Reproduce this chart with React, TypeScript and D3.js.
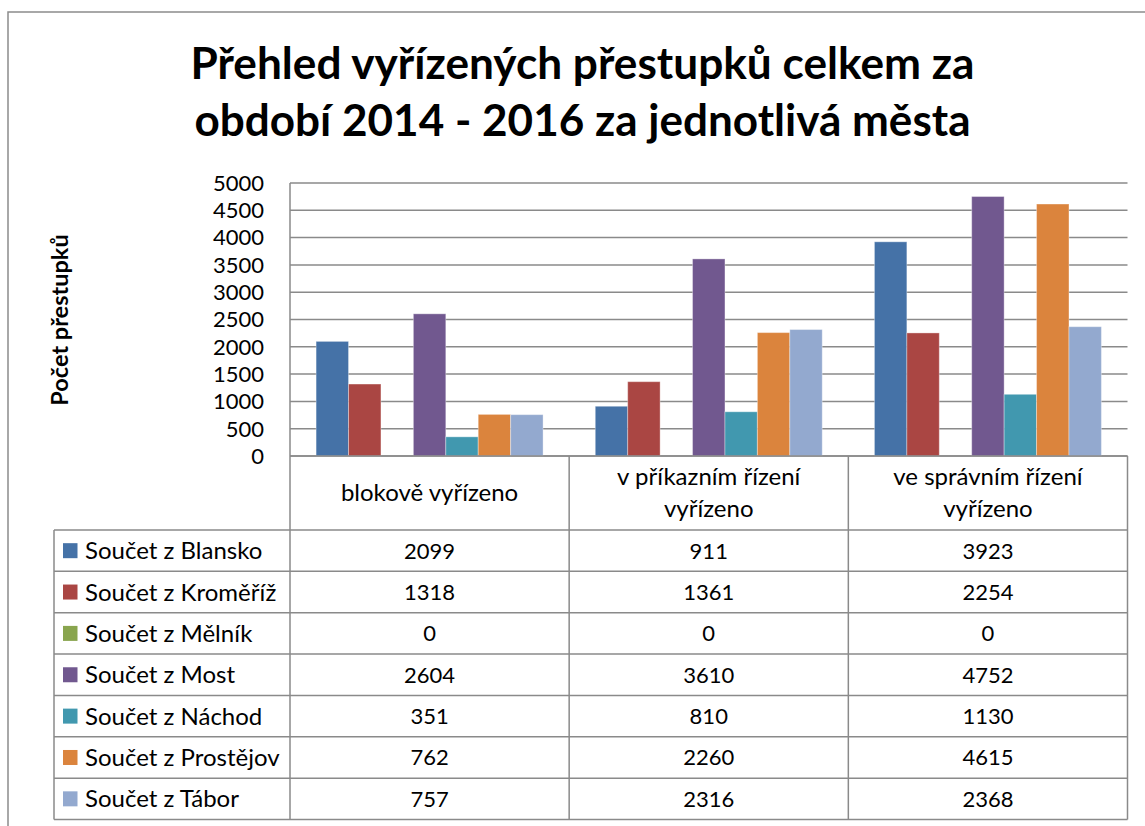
import React from "react";
import * as d3 from "d3";

const titleLines = ["Přehled vyřízených přestupků celkem za", "období 2014 - 2016 za jednotlivá města"];
const yAxisTitle = "Počet přestupků";
const categories = ["blokově vyřízeno", "v příkazním řízení vyřízeno", "ve správním řízení vyřízeno"];
const categoryLines = [["blokově vyřízeno"], ["v příkazním řízení", "vyřízeno"], ["ve správním řízení", "vyřízeno"]];
const seriesNames = [
  "Součet z Blansko",
  "Součet z Kroměříž",
  "Součet z Mělník",
  "Součet z Most",
  "Součet z Náchod",
  "Součet z Prostějov",
  "Součet z Tábor",
];
const seriesColors = ["#4572A7", "#AA4643", "#89A54E", "#71588F", "#4198AF", "#DB843D", "#93A9CF"];
const blansko = [2099, 911, 3923];
const kromeriz = [1318, 1361, 2254];
const melnik = [0, 0, 0];
const most = [2604, 3610, 4752];
const nachod = [351, 810, 1130];
const prostejov = [762, 2260, 4615];
const tabor = [757, 2316, 2368];
const seriesValues = [blansko, kromeriz, melnik, most, nachod, prostejov, tabor];
const yTicks = [0, 500, 1000, 1500, 2000, 2500, 3000, 3500, 4000, 4500, 5000];

const FONT = "Lato, 'Open Sans', sans-serif";
const GRID = "#8a8a8a";

export default function App() {
  const plotL = 290, plotR = 1127.5, plotT = 183, plotB = 456;
  const headerB = 530;
  const rowH = 41.36;
  const tableL = 54;

  const y = d3.scaleLinear().domain([0, 5000]).range([plotB, plotT]);
  const x0 = d3.scaleBand<string>().domain(categories).range([plotL, plotR]).padding(0);
  const bw = x0.bandwidth();
  const gapHalf = bw * 0.0935;
  const x1 = d3
    .scaleBand<number>()
    .domain(d3.range(seriesNames.length))
    .range([gapHalf, bw - gapHalf])
    .padding(0);

  const tableB = headerB + rowH * seriesNames.length;

  return (
    <svg
      width={1145}
      height={826}
      style={{ position: "absolute", left: 0, top: 0, background: "#fff" }}
      fontFamily={FONT}
    >
      {/* outer chart border */}
      <rect x={8} y={12} width={1200} height={900} fill="#fff" stroke="#8c8c8c" strokeWidth={1.5} />

      {/* title */}
      {titleLines.map((t, i) => (
        <text
          key={i}
          x={582.5}
          y={79 + i * 57}
          textAnchor="middle"
          fontSize={43}
          fontWeight="bold"
          fill="#000"
          textLength={i === 0 ? 784 : 776}
          lengthAdjust="spacingAndGlyphs"
        >
          {t}
        </text>
      ))}

      {/* y axis title */}
      <text
        transform={`translate(68,320) rotate(-90)`}
        textAnchor="middle"
        fontSize={23.5}
        fontWeight="bold"
        fill="#000"
      >
        {yAxisTitle}
      </text>

      {/* gridlines */}
      {yTicks.map((t) => (
        <line key={t} x1={plotL} x2={plotR} y1={y(t)} y2={y(t)} stroke={GRID} strokeWidth={1.5} />
      ))}

      {/* tick labels */}
      {yTicks.map((t) => (
        <text key={"l" + t} x={264} y={y(t) + 7.8} textAnchor="end" fontSize={22} fill="#000">
          {t}
        </text>
      ))}

      {/* bars */}
      {categories.map((c, ci) => (
        <g key={c} transform={`translate(${x0(c)},0)`}>
          {seriesValues.map((vals, si) =>
            vals[ci] > 0 ? (
              <rect
                key={si}
                x={x1(si)}
                y={y(vals[ci])}
                width={x1.bandwidth()}
                height={y(0) - y(vals[ci])}
                fill={seriesColors[si]}
                stroke="rgba(255,255,255,0.35)"
                strokeWidth={1}
              />
            ) : null
          )}
        </g>
      ))}

      {/* table lines */}
      <line x1={plotL} x2={plotL} y1={plotT} y2={tableB} stroke={GRID} strokeWidth={1.5} />
      {categories.map((c) => (
        <line
          key={"v" + c}
          x1={(x0(c) as number) + bw}
          x2={(x0(c) as number) + bw}
          y1={plotB}
          y2={tableB}
          stroke={GRID}
          strokeWidth={1.5}
        />
      ))}
      <line x1={tableL} x2={tableL} y1={headerB} y2={tableB} stroke={GRID} strokeWidth={1.5} />
      <line x1={plotL} x2={plotR} y1={plotB} y2={plotB} stroke={GRID} strokeWidth={1.5} />
      {d3.range(seriesNames.length + 1).map((r) => (
        <line
          key={"h" + r}
          x1={tableL}
          x2={plotR}
          y1={headerB + r * rowH}
          y2={headerB + r * rowH}
          stroke={GRID}
          strokeWidth={1.5}
        />
      ))}

      {/* category labels */}
      {categories.map((c, ci) => {
        const lines = categoryLines[ci];
        const cx = (x0(c) as number) + bw / 2;
        const base = lines.length === 1 ? 501 : 485;
        return lines.map((ln, li) => (
          <text key={c + li} x={cx} y={base + li * 31.5} textAnchor="middle" fontSize={24} fill="#000">
            {ln}
          </text>
        ));
      })}

      {/* table rows */}
      {seriesNames.map((name, si) => {
        const top = headerB + si * rowH;
        const cy = top + rowH / 2;
        return (
          <g key={name}>
            <rect x={63} y={cy - 7.5} width={14.5} height={15} fill={seriesColors[si]} />
            <text x={85} y={cy + 8.5} fontSize={24} fill="#000">
              {name}
            </text>
            {categories.map((c, ci) => (
              <text
                key={c}
                x={(x0(c) as number) + bw / 2}
                y={cy + 8}
                textAnchor="middle"
                fontSize={22}
                fill="#000"
              >
                {seriesValues[si][ci]}
              </text>
            ))}
          </g>
        );
      })}
    </svg>
  );
}
